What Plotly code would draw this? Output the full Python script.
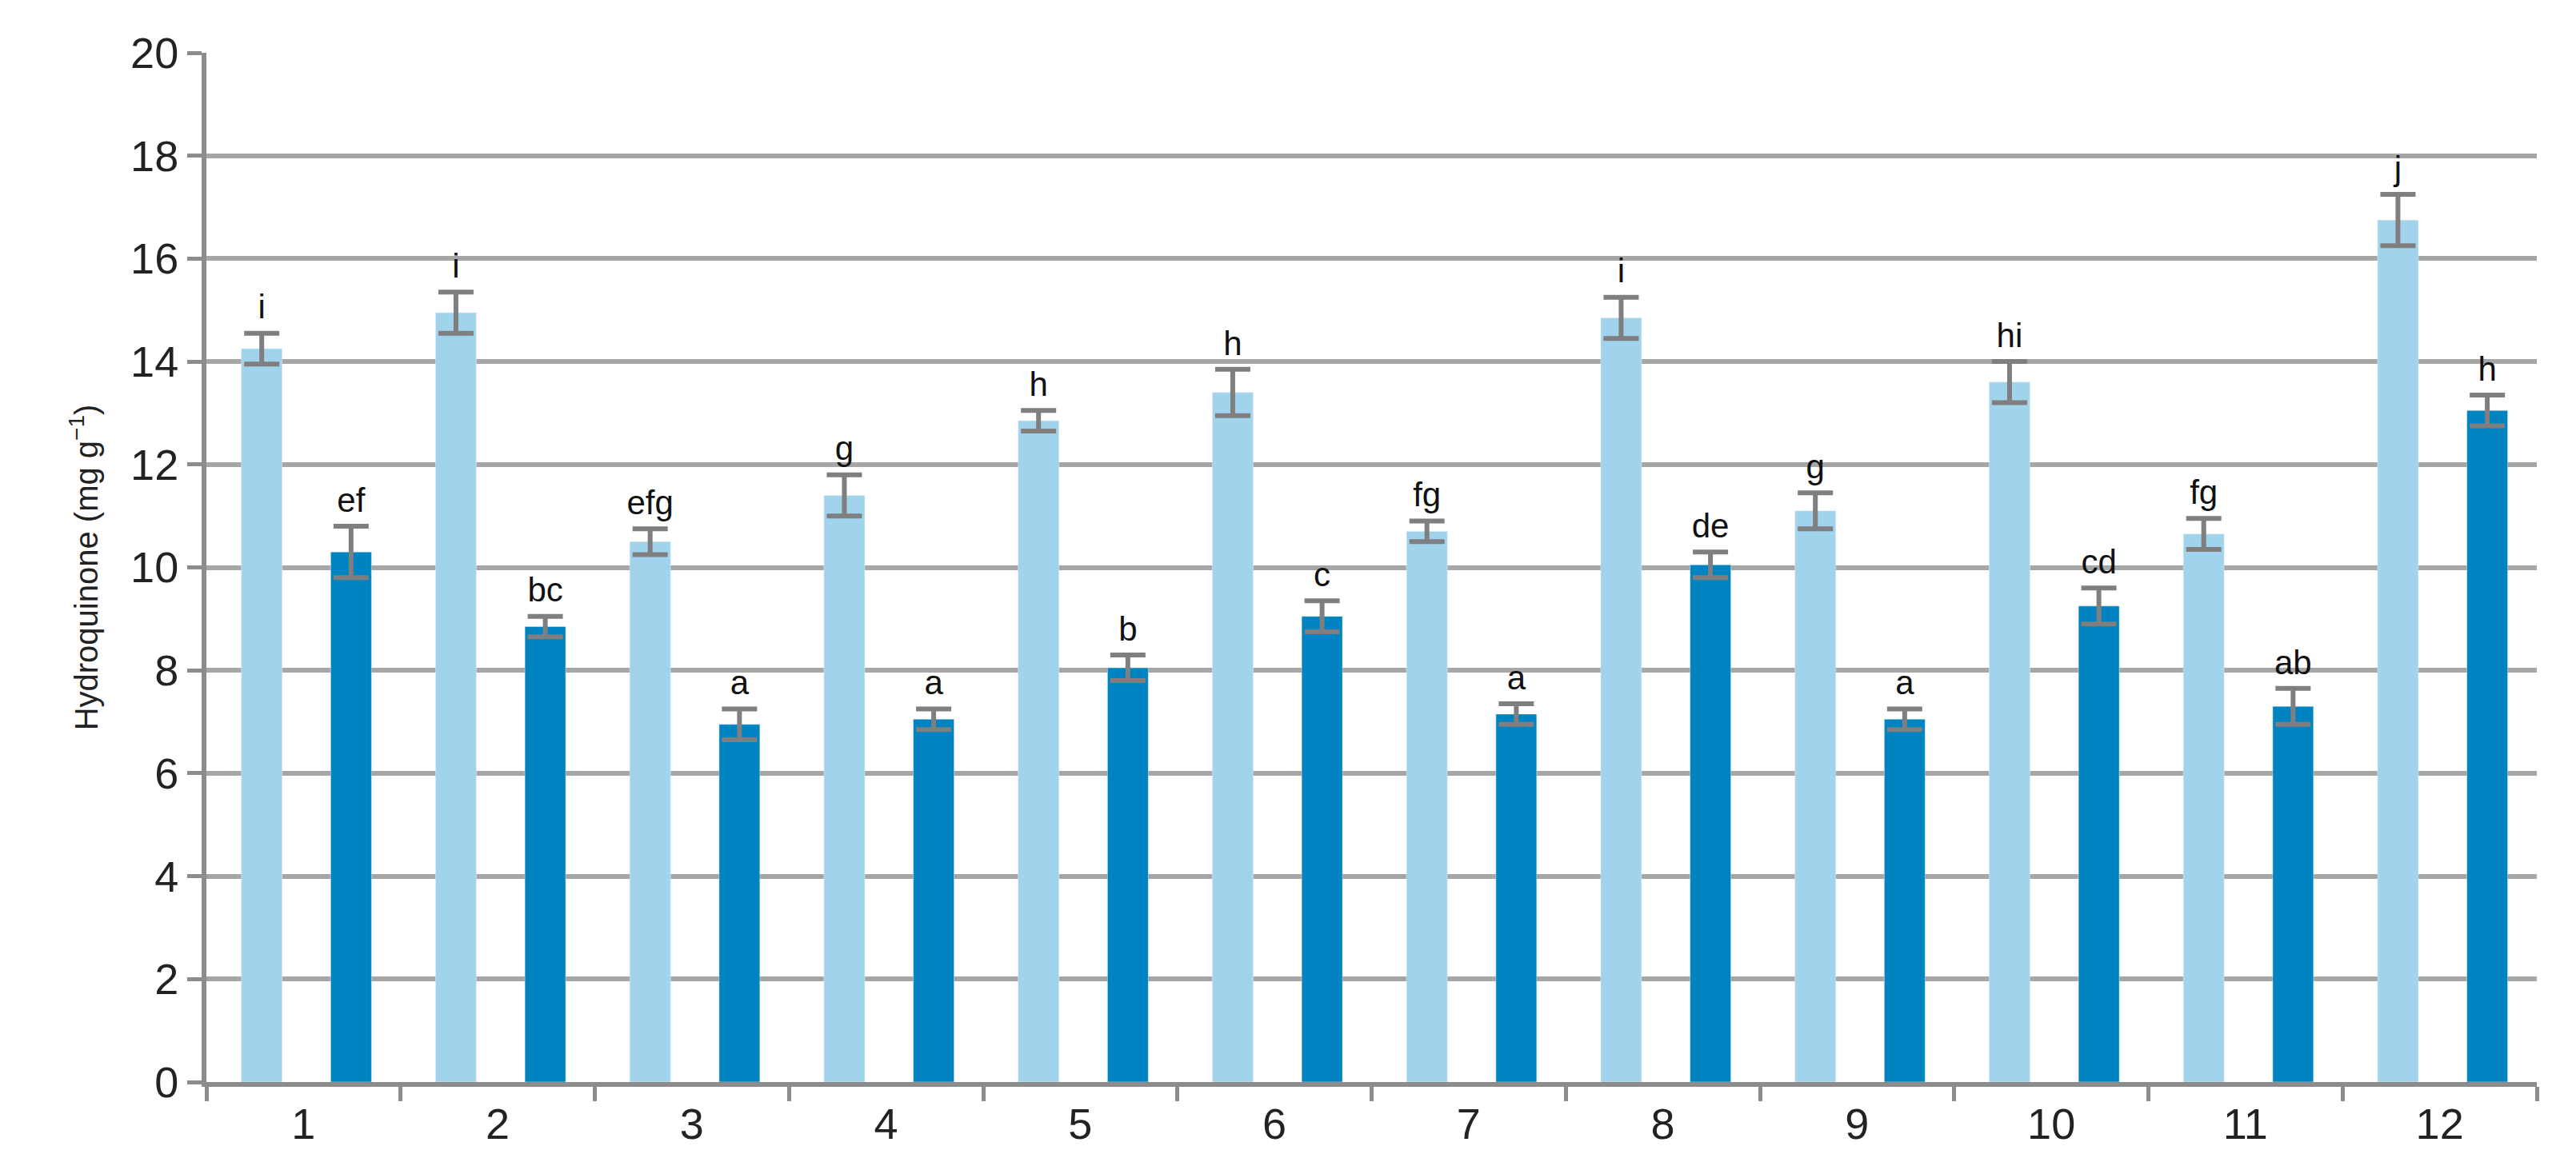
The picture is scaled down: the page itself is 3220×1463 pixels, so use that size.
import plotly.graph_objects as go

cats = list(range(1, 13))
light = [14.25, 14.95, 10.5, 11.4, 12.85, 13.4, 10.7, 14.85, 11.1, 13.6, 10.65, 16.75]
light_err = [0.3, 0.4, 0.25, 0.4, 0.2, 0.45, 0.2, 0.4, 0.35, 0.4, 0.3, 0.5]
light_lbl = ["i", "i", "efg", "g", "h", "h", "fg", "i", "g", "hi", "fg", "j"]
dark = [10.3, 8.85, 6.95, 7.05, 8.05, 9.05, 7.15, 10.05, 7.05, 9.25, 7.3, 13.05]
dark_err = [0.5, 0.2, 0.3, 0.2, 0.25, 0.3, 0.2, 0.25, 0.2, 0.35, 0.35, 0.3]
dark_lbl = ["ef", "bc", "a", "a", "b", "c", "a", "de", "a", "cd", "ab", "h"]

W = 0.21
LO, DO = -0.32, 0.14
GAP = 0.12
errc = dict(type="data", visible=True, color="#7f7f7f", thickness=6, width=22)

fig = go.Figure()
fig.add_bar(x=cats, y=light, width=W, offset=LO, marker_color="#a2d3ec",
            error_y=dict(array=light_err, **errc))
fig.add_bar(x=cats, y=dark, width=W, offset=DO, marker_color="#0083c1",
            error_y=dict(array=dark_err, **errc))
fig.add_scatter(x=[c + LO + W / 2 for c in cats], y=[v + e + GAP for v, e in zip(light, light_err)],
                text=light_lbl, mode="text", textposition="top center",
                textfont=dict(size=42, color="#111"))
fig.add_scatter(x=[c + DO + W / 2 for c in cats], y=[v + e + GAP for v, e in zip(dark, dark_err)],
                text=dark_lbl, mode="text", textposition="top center",
                textfont=dict(size=42, color="#111"))

fig.update_layout(
    width=3220, height=1463, showlegend=False, plot_bgcolor="white", paper_bgcolor="white",
    margin=dict(l=250, r=57, t=58, b=118),
    font=dict(family="Liberation Sans, Arial", color="#222"),
)
fig.update_xaxes(range=[0.5, 12.5], tickmode="array", tickvals=cats, ticktext=[str(c) for c in cats],
                 tickfont=dict(size=54), showgrid=False, zeroline=False,
                 showline=True, linecolor="#8c8c8c", linewidth=6,
                 minor=dict(tickvals=[c + 0.5 for c in range(0, 13)], ticks="outside",
                            ticklen=18, tickwidth=5, tickcolor="#8c8c8c"))
fig.update_yaxes(range=[0, 20], dtick=2, tickfont=dict(size=54), showgrid=True,
                 gridcolor="#a6a6a6", gridwidth=6, zeroline=False,
                 showline=True, linecolor="#8c8c8c", linewidth=6,
                 ticks="outside", ticklen=18, tickwidth=5, tickcolor="#8c8c8c",
                 title=dict(text="Hydroquinone (mg g<sup>−1</sup>)", font=dict(size=40), standoff=30))
fig.write_html("out.html")
